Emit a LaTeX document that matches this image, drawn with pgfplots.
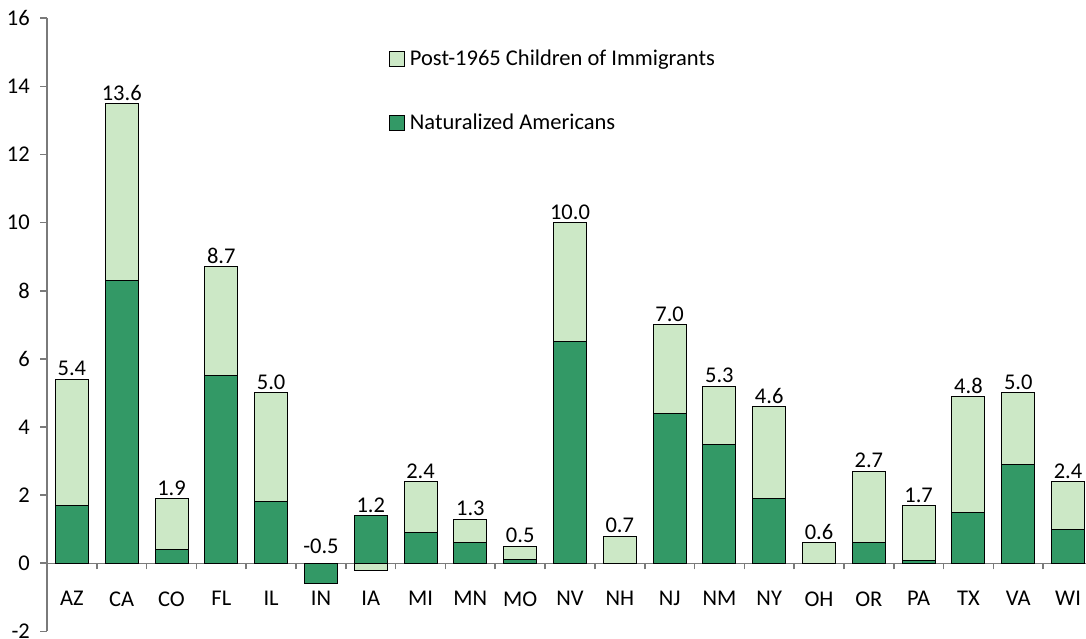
\documentclass[border=0pt]{standalone}
\usepackage{pgfplots}
\pgfplotsset{compat=1.18}
\usepackage{pgfplotstable}
\usepackage{fontspec}
\setmainfont{Carlito}
\definecolor{darkg}{HTML}{339966}
\definecolor{lightg}{HTML}{CCE8C6}
\definecolor{axgray}{HTML}{7A7A7A}
\pgfplotstableread{
x st top nat lab lp
0 AZ 5.4 1.7 5.4 5.4
1 CA 13.5 8.3 13.6 13.5
2 CO 1.9 0.4 1.9 1.9
3 FL 8.7 5.5 8.7 8.7
4 IL 5.0 1.8 5.0 5.0
5 IN 0.0 -0.6 -0.5 0.2
6 IA -0.2 1.4 1.2 1.4
7 MI 2.4 0.9 2.4 2.4
8 MN 1.3 0.6 1.3 1.3
9 MO 0.5 0.1 0.5 0.5
10 NV 10.0 6.5 10.0 10.0
11 NH 0.8 0.0 0.7 0.8
12 NJ 7.0 4.4 7.0 7.0
13 NM 5.2 3.5 5.3 5.2
14 NY 4.6 1.9 4.6 4.6
15 OH 0.6 0.0 0.6 0.6
16 OR 2.7 0.6 2.7 2.7
17 PA 1.7 0.08 1.7 1.7
18 TX 4.9 1.5 4.8 4.9
19 VA 5.0 2.9 5.0 5.0
20 WI 2.4 1.0 2.4 2.4
}\data
\begin{document}
\fontsize{22.5}{27}\selectfont
\begin{tikzpicture}
\begin{axis}[
  at={(47pt,6.6pt)}, anchor=south west,
  scale only axis, width=1039pt, height=613.1pt,
  xmin=-0.5, xmax=20.36, ymin=-2, ymax=16,
  axis y line=left, axis x line=middle,
  axis line style={-, draw=axgray, line width=1.2pt},
  hide obscured x ticks=false, hide obscured y ticks=false,
  ybar, bar width=33pt,
  ytick={-2,0,...,16},
  xtick={0,...,20},
  xticklabels={AZ,CA,CO,FL,IL,IN,IA,MI,MN,MO,NV,NH,NJ,NM,NY,OH,OR,PA,TX,VA,WI},
  xtick style={draw=none},
  extra x ticks={0.5,1.5,...,19.5},
  extra x tick labels={},
  extra x tick style={xtick style={draw=axgray, line width=1.6pt}, major tick length=6pt, tick align=outside},
  ytick style={draw=axgray, line width=1.6pt},
  tick align=outside,
  major tick length=6.5pt,
  ticklabel style={font=\fontsize{22.5}{27}\selectfont},
  yticklabel style={xshift=-3pt},
  xticklabel style={yshift=-14pt},
  /pgf/number format/assume math mode=true,
  legend style={draw=none, fill=none, at={(0.329,0.952)}, anchor=north west,
    font=\fontsize{22.5}{27}\selectfont, row sep=41pt, column sep=3pt, inner sep=0pt,
    legend cell align=left},
  legend image code/.code={\draw[#1, draw=black, line width=0.9pt] (0pt,-7.5pt) rectangle (15pt,7.5pt);},
  clip=false,
]
\addplot[bar shift=0pt, fill=lightg, draw=black, line width=1pt] table[x=x, y=top]{\data};
\addlegendentry{Post-1965 Children of Immigrants}
\addplot[bar shift=0pt, fill=darkg, draw=black, line width=1pt] table[x=x, y=nat]{\data};
\addlegendentry{Naturalized Americans}
\addplot[bar shift=0pt, draw=none, fill=none, forget plot,
  point meta=explicit,
  nodes near coords={\pgfmathprintnumber[fixed,fixed zerofill,precision=1,assume math mode=true]{\pgfplotspointmeta}},
  nodes near coords align=above,
  every node near coord/.append style={font=\fontsize{22.5}{27}\selectfont, inner sep=3pt, text=black, anchor=south}]
  table[x=x, y=lp, meta=lab]{\data};
\end{axis}
\pgfresetboundingbox
\useasboundingbox (0,0) rectangle (1086pt,638pt);
\end{tikzpicture}
\end{document}
